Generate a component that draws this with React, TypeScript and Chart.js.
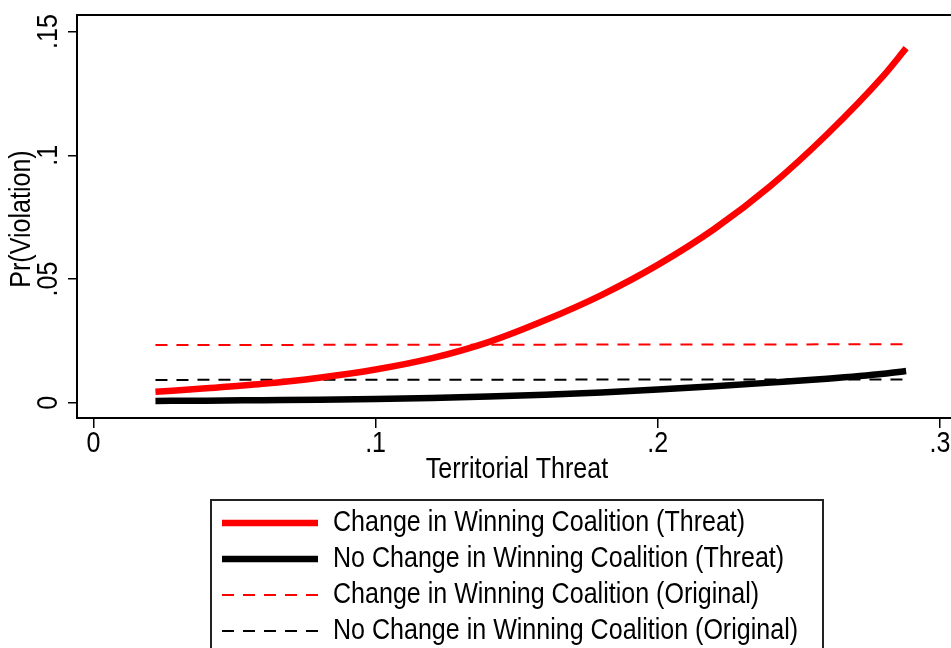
import React, { useEffect, useRef } from 'react';
import { Chart, registerables } from 'chart.js';

Chart.register(...registerables);

const FONT = "'Liberation Sans', Arial, Helvetica, sans-serif";
const FONT_SIZE = 30;
const NARROW = 0.835; // horizontal condensation, mimics Helvetica Narrow

// Axis ticks
const xTickValues = [0, 0.1, 0.2, 0.3];
const xTickLabels = ['0', '.1', '.2', '.3'];
const yTickValues = [0, 0.05, 0.1, 0.15];
const yTickLabels = ['0', '.05', '.1', '.15'];
const xTitle = 'Territorial Threat';
const yTitle = 'Pr(Violation)';

// Territorial threat grid (x)
const threatX = [0.022, 0.04, 0.06, 0.08, 0.1, 0.12, 0.14, 0.16, 0.18, 0.2, 0.22, 0.24, 0.26, 0.28, 0.288];
// Pr(Violation) – change in winning coalition (threat)
const changeThreat = [0.0044, 0.0058, 0.0076, 0.0101, 0.0134, 0.018, 0.0245, 0.0333, 0.0435, 0.0557, 0.0702, 0.0877, 0.1085, 0.1322, 0.1433];
// Pr(Violation) – no change in winning coalition (threat)
const noChangeThreat = [0.0007, 0.0008, 0.001, 0.0012, 0.0015, 0.0019, 0.0025, 0.0032, 0.0041, 0.0053, 0.0066, 0.0081, 0.0097, 0.0117, 0.0128];
// Original (flat) predictions
const originalX = [0.022, 0.288];
const changeOriginal = [0.0233, 0.0236];
const noChangeOriginal = [0.0092, 0.0094];

const seriesLabels = [
  'Change in Winning Coalition (Threat)',
  'No Change in Winning Coalition (Threat)',
  'Change in Winning Coalition (Original)',
  'No Change in Winning Coalition (Original)',
];

const toPts = (xs: number[], ys: number[]) => xs.map((x, i) => ({ x, y: ys[i] }));

function drawText(
  ctx: CanvasRenderingContext2D,
  text: string,
  x: number,
  y: number,
  align: CanvasTextAlign,
  baseline: CanvasTextBaseline,
  rotated = false,
) {
  ctx.save();
  ctx.translate(x, y);
  if (rotated) ctx.rotate(-Math.PI / 2);
  ctx.scale(NARROW, 1);
  ctx.font = `${FONT_SIZE}px ${FONT}`;
  ctx.fillStyle = '#000';
  ctx.textAlign = align;
  ctx.textBaseline = baseline;
  ctx.fillText(text, 0, 0);
  ctx.restore();
}

export default function App() {
  const ref = useRef<HTMLCanvasElement>(null);

  useEffect(() => {
    document.body.style.margin = '0';
    const canvas = ref.current!;

    const decor = {
      id: 'decor',
      afterDraw(chart: any) {
        const { ctx, chartArea, scales } = chart;
        ctx.save();
        // top frame of plot region
        ctx.strokeStyle = '#000';
        ctx.lineWidth = 2;
        ctx.beginPath();
        ctx.moveTo(chartArea.left - 1, chartArea.top);
        ctx.lineTo(chartArea.right, chartArea.top);
        ctx.stroke();

        // x tick labels + title
        const xs = scales.x;
        xTickValues.forEach((v, i) => {
          drawText(ctx, xTickLabels[i], xs.getPixelForValue(v), 444, 'center', 'middle');
        });
        drawText(ctx, xTitle, 517, 470, 'center', 'middle');

        // rotated y tick labels + title
        const ys = scales.y;
        yTickValues.forEach((v, i) => {
          drawText(ctx, yTickLabels[i], 57, ys.getPixelForValue(v), 'center', 'alphabetic', true);
        });
        drawText(ctx, yTitle, 22, 219, 'center', 'middle', true);

        // legend box
        ctx.strokeStyle = '#222';
        ctx.lineWidth = 2;
        ctx.strokeRect(211, 500, 612, 170);
        const rowY = [523, 559, 595, 631];
        chart.data.datasets.forEach((ds: any, i: number) => {
          const y = rowY[i];
          ctx.save();
          ctx.strokeStyle = ds.borderColor;
          ctx.lineWidth = ds.borderWidth;
          ctx.setLineDash(ds.borderDash || []);
          ctx.beginPath();
          ctx.moveTo(222, y);
          ctx.lineTo(318, y);
          ctx.stroke();
          ctx.restore();
          drawText(ctx, ds.label, 333, y, 'left', 'middle');
        });
        ctx.restore();
      },
    };

    const chart = new Chart(canvas, {
      type: 'line',
      data: {
        datasets: [
          {
            label: seriesLabels[0],
            data: toPts(threatX, changeThreat),
            borderColor: '#ff0000',
            borderWidth: 6.5,
            pointRadius: 0,
            cubicInterpolationMode: 'monotone',
          },
          {
            label: seriesLabels[1],
            data: toPts(threatX, noChangeThreat),
            borderColor: '#000000',
            borderWidth: 6.5,
            pointRadius: 0,
            cubicInterpolationMode: 'monotone',
          },
          {
            label: seriesLabels[2],
            data: toPts(originalX, changeOriginal),
            borderColor: '#ff0000',
            borderWidth: 2,
            borderDash: [12, 9],
            pointRadius: 0,
          },
          {
            label: seriesLabels[3],
            data: toPts(originalX, noChangeOriginal),
            borderColor: '#000000',
            borderWidth: 2,
            borderDash: [12, 9],
            pointRadius: 0,
          },
        ],
      },
      options: {
        responsive: false,
        animation: false,
        devicePixelRatio: 1,
        layout: { padding: { top: 15, right: 0, bottom: 163, left: 0 } },
        plugins: {
          legend: { display: false },
          tooltip: { enabled: false },
        },
        scales: {
          x: {
            type: 'linear',
            min: -0.0058,
            max: 0.3039,
            afterBuildTicks: (s: any) => {
              s.ticks = xTickValues.map((v) => ({ value: v }));
            },
            afterFit: (s: any) => {
              s.height = 67;
              s.paddingLeft = 0;
              s.paddingRight = 0;
            },
            border: { display: true, color: '#000', width: 2 },
            grid: { drawOnChartArea: false, drawTicks: true, tickLength: 10, color: '#000', lineWidth: 1.5 },
            ticks: { display: false },
            title: { display: false },
          },
          y: {
            type: 'linear',
            min: -0.0062,
            max: 0.1567,
            afterBuildTicks: (s: any) => {
              s.ticks = yTickValues.map((v) => ({ value: v }));
            },
            afterFit: (s: any) => {
              s.width = 77;
              s.paddingTop = 0;
              s.paddingBottom = 0;
            },
            border: { display: true, color: '#000', width: 2 },
            grid: { drawOnChartArea: false, drawTicks: true, tickLength: 9, color: '#000', lineWidth: 1.5 },
            ticks: { display: false },
            title: { display: false },
          },
        },
      },
      plugins: [decor],
    } as any);

    return () => chart.destroy();
  }, []);

  return (
    <div style={{ width: 951, height: 648, background: '#fff' }}>
      <canvas ref={ref} width={951} height={648} style={{ display: 'block' }} />
    </div>
  );
}
